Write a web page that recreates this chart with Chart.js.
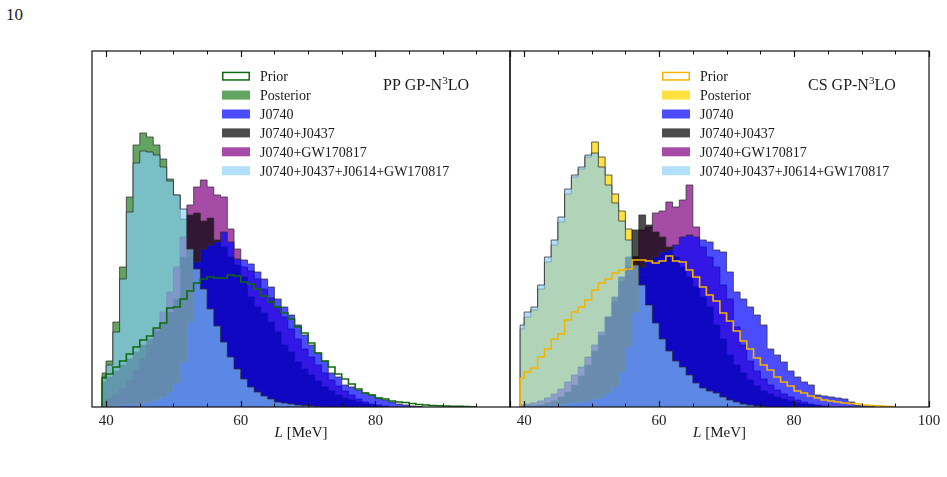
<!DOCTYPE html>
<html>
<head>
<meta charset="utf-8">
<script src="https://cdn.jsdelivr.net/npm/chart.js@4.4.1/dist/chart.umd.min.js"></script>
<style>
  html, body { margin: 0; padding: 0; background: #fff; overflow: hidden; }
  #wrap { position: relative; width: 947px; height: 477px; overflow: hidden; }
  #cl { position: absolute; left: 0; top: 0; }
  #cr { position: absolute; left: 500px; top: 0; }
  #tag { position: absolute; left: 6px; top: 6px; font: 17px "Liberation Serif", serif; line-height: 17px; color: #222; }
</style>
</head>
<body>
<div id="wrap">
  <div id="tag">10</div>
  <canvas id="cl" width="530" height="477"></canvas>
  <canvas id="cr" width="460" height="477"></canvas>
</div>
<script>
// L axis (MeV)
const xMin = 37.9, xMax = 100;
const majorTicks = [40, 60, 80, 100];
const minorTicks = [45, 50, 55, 65, 70, 75, 85, 90, 95];
// histogram bins: first bin starts at 39.4, then 1 MeV wide
const binEdges = [39.4];
for (let e = 40; e <= 100; e++) binEdges.push(e);

// PP GP-N3LO panel, bin heights from L = 39 upward
const priorPP = [29, 33, 40, 46, 53, 60, 67, 71, 79, 84, 99, 100, 108, 116, 124, 128, 130, 129, 129, 132,
  131, 125, 123, 118, 111, 105, 100, 94, 88, 80, 74, 64, 54, 46, 40, 33, 28, 23, 18, 14,
  12, 9, 8, 6, 5, 4.5, 3.5, 2.5, 2, 1.5, 1.2, 1, 0.8, 0.6, 0.5, 0.3];
const postPP = [34, 46, 85, 140, 210, 262, 274, 270, 262, 248, 228, 212, 188, 150, 130, 112, 92, 76, 60, 46,
  35, 26, 19, 13, 9, 6.5, 4.5, 3.2, 2.2, 1.5, 1, 0.6, 0.3];
const j0740PP = [1, 1, 1.5, 2, 2.5, 3, 4, 5, 7, 10, 15, 24, 45, 85, 145, 158, 162, 165, 175, 165,
  148, 147, 143, 135, 128, 120, 108, 100, 92, 82, 72, 62, 54, 46, 34, 30, 22, 20, 17, 14,
  12, 9, 7, 5, 3, 2, 1, 0.5];
const j0437PP = [25, 30, 36, 42, 48, 55, 62, 68, 76, 84, 95, 108, 150, 192, 194, 186, 189, 167, 160, 150,
  142, 130, 110, 100, 94, 85, 75, 62, 55, 45, 38, 32, 26, 20, 16, 12, 9, 7, 5, 3, 2, 1];
const gwPP = [5, 8, 12, 18, 26, 36, 48, 62, 78, 95, 115, 140, 170, 202, 220, 227, 220, 212, 210, 178,
  158, 140, 136, 128, 118, 109, 100, 90, 78, 68, 58, 50, 42, 34, 27, 21, 16, 12, 8, 5, 3, 2, 1];
const allPP = [30, 42, 75, 128, 195, 244, 256, 255, 252, 240, 226, 212, 198, 158, 138, 118, 98, 81, 65, 50,
  38, 28, 20, 15, 11, 8, 5, 4, 3, 2, 1.5, 1, 0.5];

// CS GP-N3LO panel
const priorCS = [29, 35, 39, 50, 58, 68, 73, 87, 95, 100, 107, 117, 124, 128, 134, 137, 138, 147, 147, 146,
  144, 146, 151, 146, 145, 137, 130, 120, 112, 106, 94, 86, 76, 66, 58, 49, 42, 37, 30, 25,
  21, 16, 14, 11, 9, 7, 6, 5, 4, 3.5, 3, 2, 1.5, 1.2, 0.8, 0.5];
const postCS = [78, 90, 97, 118, 145, 162, 185, 213, 230, 238, 250, 265, 250, 232, 213, 196, 178, 150, 130, 105,
  82, 66, 50, 40, 33, 26, 20, 16, 13, 10, 7, 5, 3, 2, 1, 0.5];
const j0740CS = [1, 1, 1, 1, 1.5, 2, 2.5, 3, 4, 5, 6, 8, 10, 14, 20, 35, 60, 95, 140, 146,
  150, 155, 157, 162, 170, 172, 170, 167, 165, 157, 155, 135, 115, 108, 100, 92, 82, 58, 52, 45,
  36, 30, 25, 22, 12, 11, 10, 9, 8, 5, 1.5, 1, 0.5];
const j0437CS = [1, 1, 1, 2, 4, 6, 10, 15, 22, 31, 42, 56, 72, 90, 110, 130, 150, 177, 192, 182,
  175, 170, 160, 150, 140, 130, 120, 110, 100, 82, 68, 52, 42, 34, 27, 21, 16, 13, 10, 8,
  6, 4, 3, 2, 1];
const gwCS = [2, 3, 4, 6, 9, 13, 18, 25, 32, 40, 50, 62, 75, 90, 105, 125, 140, 150, 177, 180,
  194, 196, 205, 200, 207, 222, 180, 160, 150, 140, 122, 108, 80, 62, 46, 36, 28, 22, 17, 13,
  10, 7, 5, 3, 2, 1];
const allCS = [82, 95, 100, 122, 150, 167, 190, 218, 232, 240, 252, 254, 240, 222, 204, 186, 167, 142, 122, 102,
  84, 68, 56, 46, 40, 32, 24, 19, 16, 14, 10, 7, 5, 3, 2, 1, 0.5];

const yMax = 356;

const colors = {
  j0740: 'rgba(0,0,255,0.7)',
  j0437: 'rgba(0,0,0,0.7)',
  gw: 'rgba(128,0,128,0.7)',
  all: 'rgba(135,206,250,0.65)'
};
const edgeColor = 'rgba(45,45,45,0.75)';
const serif = '"Liberation Serif", "Times New Roman", serif';

function steps(vals) {
  const pts = [{ x: binEdges[0], y: 0 }];
  vals.forEach((v, i) => pts.push({ x: binEdges[i], y: v }));
  pts.push({ x: binEdges[vals.length], y: 0 });
  return pts;
}

function filled(label, vals, bg, order) {
  return {
    label, data: steps(vals), backgroundColor: bg, borderColor: edgeColor,
    borderWidth: 1, fill: 'origin', stepped: true, pointRadius: 0, order
  };
}

function panelDatasets(p) {
  return [
    { label: 'Prior', data: steps(p.prior), borderColor: p.priorColor, borderWidth: 1.6,
      fill: false, stepped: true, pointRadius: 0, order: 0 },
    filled('J0740+J0437+J0614+GW170817', p.all, colors.all, 1),
    filled('J0740', p.j0740, colors.j0740, 2),
    filled('J0740+J0437', p.j0437, colors.j0437, 3),
    filled('J0740+GW170817', p.gw, colors.gw, 4),
    filled('Posterior', p.post, p.postColor, 5)
  ];
}

function axes(shown) {
  return {
    x: {
      type: 'linear', min: xMin, max: xMax, position: 'bottom',
      afterFit: s => { s.height = 70; },
      afterBuildTicks: s => { s.ticks = majorTicks.map(v => ({ value: v })); },
      border: { display: false },
      grid: { display: false, drawTicks: false },
      ticks: { padding: 5, autoSkip: false, maxRotation: 0, color: '#222',
        font: { family: serif, size: 15 },
        callback: v => shown.includes(v) ? String(v) : '' }
    },
    y: { display: false, min: 0, max: yMax }
  };
}

function decor(p) {
  return {
    id: 'decor',
    afterDraw(chart) {
      const { ctx, chartArea: a } = chart;
      const xs = chart.scales.x;
      ctx.save();

      // inward ticks on bottom and top, placed by the x scale
      ctx.strokeStyle = '#111';
      const tick = (v, len, w) => {
        const px = Math.round(xs.getPixelForValue(v)) + 0.5;
        ctx.lineWidth = w;
        ctx.beginPath();
        ctx.moveTo(px, a.bottom); ctx.lineTo(px, a.bottom - len);
        ctx.moveTo(px, a.top); ctx.lineTo(px, a.top + len);
        ctx.stroke();
      };
      majorTicks.forEach(v => tick(v, 6, 1.2));
      minorTicks.forEach(v => tick(v, 3.5, 1));

      ctx.lineWidth = 1.2;
      ctx.strokeRect(a.left, a.top, a.right - a.left, a.bottom - a.top);

      const items = [
        { label: 'Prior', outline: p.priorColor },
        { label: 'Posterior', fill: p.postColor },
        { label: 'J0740', fill: colors.j0740 },
        { label: 'J0740+J0437', fill: colors.j0437 },
        { label: 'J0740+GW170817', fill: colors.gw },
        { label: 'J0740+J0437+J0614+GW170817', fill: colors.all }
      ];
      ctx.font = '14px ' + serif;
      ctx.textBaseline = 'alphabetic';
      items.forEach((it, i) => {
        const cy = 76.2 + i * 18.9;
        if (it.outline) {
          ctx.fillStyle = '#fff';
          ctx.fillRect(p.legX, cy - 4.5, 28, 9);
          ctx.strokeStyle = it.outline;
          ctx.lineWidth = 1.5;
          ctx.strokeRect(p.legX + 0.75, cy - 3.75, 26.5, 7.5);
        } else {
          ctx.fillStyle = it.fill;
          ctx.fillRect(p.legX, cy - 4.5, 28, 9);
        }
        ctx.fillStyle = '#1a1a1a';
        ctx.fillText(it.label, p.legX + 38, cy + 4.8);
      });

      // panel title with superscript
      ctx.font = '16px ' + serif;
      let tx = p.titleX;
      const t1 = p.title + ' GP-N';
      ctx.fillText(t1, tx, 90);
      tx += ctx.measureText(t1).width;
      ctx.font = '11px ' + serif;
      ctx.fillText('3', tx, 84);
      tx += ctx.measureText('3').width;
      ctx.font = '16px ' + serif;
      ctx.fillText('LO', tx, 90);

      // axis title
      const cx = (a.left + a.right) / 2;
      ctx.font = 'italic 15px ' + serif;
      const wL = ctx.measureText('L').width;
      ctx.font = '15px ' + serif;
      const wR = ctx.measureText(' [MeV]').width;
      const x0 = cx - (wL + wR) / 2;
      ctx.font = 'italic 15px ' + serif;
      ctx.fillText('L', x0, 437);
      ctx.font = '15px ' + serif;
      ctx.fillText(' [MeV]', x0 + wL, 437);
      ctx.restore();
    }
  };
}

function makePanel(canvasId, p, padL, padR, shown) {
  return new Chart(document.getElementById(canvasId), {
    type: 'line',
    data: { datasets: panelDatasets(p) },
    options: {
      responsive: false,
      animation: false,
      events: [],
      layout: { padding: { left: padL, right: padR, top: 51, bottom: 0 } },
      plugins: { legend: { display: false }, tooltip: { enabled: false } },
      scales: axes(shown)
    },
    plugins: [decor(p)]
  });
}

makePanel('cl', {
  prior: priorPP, post: postPP, j0740: j0740PP, j0437: j0437PP, gw: gwPP, all: allPP,
  priorColor: '#0f6a0f', postColor: 'rgba(0,110,0,0.62)',
  legX: 222, titleX: 383, title: 'PP'
}, 92, 20, [40, 60, 80]);

makePanel('cr', {
  prior: priorCS, post: postCS, j0740: j0740CS, j0437: j0437CS, gw: gwCS, all: allCS,
  priorColor: '#f5b400', postColor: 'rgba(255,215,0,0.75)',
  legX: 162, titleX: 308, title: 'CS'
}, 10, 31, [40, 60, 80, 100]);
</script>
</body>
</html>
